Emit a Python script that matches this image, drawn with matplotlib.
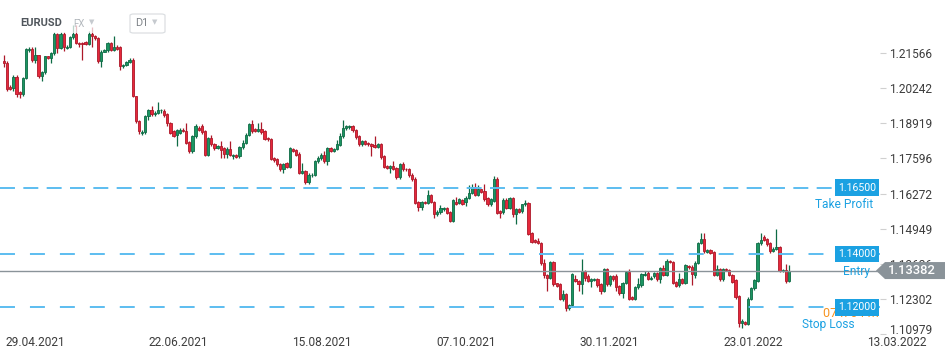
import matplotlib
matplotlib.use("Agg")
import matplotlib.pyplot as plt
import matplotlib.transforms as mtransforms
from matplotlib.patches import Polygon, FancyBboxPatch, Rectangle
import numpy as np

plt.rcParams['font.family'] = ['Roboto', 'DejaVu Sans']

# EURUSD D1 candles
opens = [
    1.2127, 1.2120, 1.2027, 1.2025, 1.2067, 1.2010, 1.2003, 1.2062, 1.2168, 1.2170,
    1.2128, 1.2147, 1.2068, 1.2084, 1.2143, 1.2137, 1.2155, 1.2227, 1.2174, 1.2227,
    1.2176, 1.2180, 1.2215, 1.2227, 1.2193, 1.2192, 1.2196, 1.2190, 1.2227, 1.2218,
    1.2212, 1.2124, 1.2161, 1.2168, 1.2193, 1.2168, 1.2180, 1.2180, 1.2106, 1.2112,
    1.2122, 1.2131, 1.1993, 1.1899, 1.1855, 1.1860, 1.1918, 1.1940, 1.1925, 1.1930,
    1.1940, 1.1939, 1.1928, 1.1893, 1.1862, 1.1846, 1.1856, 1.1868, 1.1862, 1.1821,
    1.1787, 1.1843, 1.1874, 1.1883, 1.1862, 1.1774, 1.1837, 1.1814, 1.1799, 1.1806,
    1.1799, 1.1778, 1.1796, 1.1768, 1.1773, 1.1768, 1.1803, 1.1818, 1.1849, 1.1889,
    1.1871, 1.1862, 1.1871, 1.1862, 1.1837, 1.1833, 1.1762, 1.1758, 1.1737, 1.1718,
    1.1741, 1.1728, 1.1796, 1.1793, 1.1778, 1.1706, 1.1712, 1.1671, 1.1696, 1.1699,
    1.1749, 1.1762, 1.1774, 1.1749, 1.1799, 1.1789, 1.1795, 1.1809, 1.1843, 1.1874,
    1.1877, 1.1880, 1.1868, 1.1843, 1.1812, 1.1824, 1.1817, 1.1814, 1.1809, 1.1802,
    1.1814, 1.1768, 1.1731, 1.1724, 1.1731, 1.1724, 1.1689, 1.1739, 1.1721, 1.1721,
    1.1699, 1.1684, 1.1597, 1.1577, 1.1597, 1.1593, 1.1621, 1.1597, 1.1552, 1.1560,
    1.1568, 1.1572, 1.1560, 1.1525, 1.1597, 1.1593, 1.1602, 1.1597, 1.1612, 1.1631,
    1.1652, 1.1624, 1.1643, 1.1637, 1.1612, 1.1587, 1.1599, 1.1683, 1.1562, 1.1558,
    1.1603, 1.1574, 1.1612, 1.1549, 1.1568, 1.1562, 1.1587, 1.1593, 1.1481, 1.1453,
    1.1450, 1.1443, 1.1365, 1.1321, 1.1312, 1.1371, 1.1290, 1.1287, 1.1233, 1.1250,
    1.1196, 1.1208, 1.1306, 1.1300, 1.1287, 1.1337, 1.1316, 1.1300, 1.1303, 1.1308,
    1.1287, 1.1262, 1.1343, 1.1287, 1.1316, 1.1316, 1.1281, 1.1252, 1.1293, 1.1333,
    1.1240, 1.1233, 1.1275, 1.1283, 1.1321, 1.1328, 1.1306, 1.1316, 1.1328, 1.1306,
    1.1346, 1.1321, 1.1375, 1.1371, 1.1296, 1.1283, 1.1308, 1.1293, 1.1356, 1.1353,
    1.1321, 1.1368, 1.1443, 1.1458, 1.1408, 1.1416, 1.1408, 1.1321, 1.1343, 1.1306,
    1.1343, 1.1341, 1.1321, 1.1302, 1.1241, 1.1140, 1.1144, 1.1137, 1.1233, 1.1271,
    1.1300, 1.1441, 1.1466, 1.1458, 1.1443, 1.1412, 1.1421, 1.1428, 1.1337, 1.1341,
    1.1300,
]
highs = [
    1.2149, 1.2125, 1.2035, 1.2072, 1.2072, 1.2012, 1.2066, 1.2175, 1.2177, 1.2178,
    1.2180, 1.2150, 1.2090, 1.2146, 1.2146, 1.2160, 1.2235, 1.2232, 1.2236, 1.2236,
    1.2185, 1.2220, 1.2260, 1.2260, 1.2198, 1.2196, 1.2200, 1.2240, 1.2254, 1.2222,
    1.2215, 1.2168, 1.2172, 1.2198, 1.2196, 1.2218, 1.2185, 1.2184, 1.2116, 1.2126,
    1.2136, 1.2138, 1.1996, 1.1905, 1.1866, 1.1922, 1.1945, 1.1958, 1.1936, 1.1972,
    1.1946, 1.1945, 1.1930, 1.1898, 1.1868, 1.1872, 1.1874, 1.1874, 1.1893, 1.1826,
    1.1848, 1.1888, 1.1880, 1.1888, 1.1868, 1.1842, 1.1849, 1.1818, 1.1810, 1.1824,
    1.1803, 1.1803, 1.1824, 1.1778, 1.1776, 1.1808, 1.1830, 1.1856, 1.1893, 1.1905,
    1.1874, 1.1893, 1.1895, 1.1866, 1.1840, 1.1836, 1.1765, 1.1762, 1.1741, 1.1741,
    1.1745, 1.1803, 1.1800, 1.1796, 1.1782, 1.1741, 1.1716, 1.1703, 1.1706, 1.1753,
    1.1768, 1.1780, 1.1787, 1.1803, 1.1803, 1.1799, 1.1830, 1.1855, 1.1905, 1.1885,
    1.1884, 1.1884, 1.1872, 1.1846, 1.1830, 1.1828, 1.1820, 1.1818, 1.1843, 1.1818,
    1.1818, 1.1772, 1.1735, 1.1735, 1.1749, 1.1728, 1.1743, 1.1745, 1.1724, 1.1724,
    1.1703, 1.1688, 1.1600, 1.1600, 1.1600, 1.1640, 1.1625, 1.1600, 1.1565, 1.1585,
    1.1576, 1.1577, 1.1563, 1.1606, 1.1615, 1.1610, 1.1606, 1.1618, 1.1660, 1.1665,
    1.1668, 1.1660, 1.1646, 1.1662, 1.1615, 1.1610, 1.1693, 1.1690, 1.1565, 1.1610,
    1.1612, 1.1615, 1.1615, 1.1572, 1.1572, 1.1590, 1.1603, 1.1596, 1.1484, 1.1456,
    1.1462, 1.1446, 1.1380, 1.1325, 1.1375, 1.1375, 1.1293, 1.1290, 1.1265, 1.1253,
    1.1212, 1.1330, 1.1320, 1.1303, 1.1383, 1.1340, 1.1325, 1.1312, 1.1312, 1.1312,
    1.1290, 1.1348, 1.1346, 1.1320, 1.1320, 1.1325, 1.1285, 1.1297, 1.1337, 1.1345,
    1.1243, 1.1280, 1.1310, 1.1330, 1.1337, 1.1337, 1.1318, 1.1333, 1.1333, 1.1350,
    1.1360, 1.1380, 1.1378, 1.1375, 1.1300, 1.1330, 1.1312, 1.1362, 1.1360, 1.1358,
    1.1373, 1.1447, 1.1478, 1.1481, 1.1420, 1.1420, 1.1412, 1.1360, 1.1346, 1.1348,
    1.1346, 1.1345, 1.1325, 1.1305, 1.1245, 1.1155, 1.1148, 1.1237, 1.1275, 1.1306,
    1.1446, 1.1481, 1.1470, 1.1462, 1.1447, 1.1426, 1.1493, 1.1432, 1.1345, 1.1362,
    1.1358,
]
lows = [
    1.2102, 1.2012, 1.2015, 1.2012, 1.1990, 1.1985, 1.1995, 1.2058, 1.2160, 1.2122,
    1.2120, 1.2060, 1.2049, 1.2078, 1.2134, 1.2118, 1.2150, 1.2155, 1.2170, 1.2162,
    1.2172, 1.2176, 1.2210, 1.2188, 1.2180, 1.2131, 1.2185, 1.2186, 1.2180, 1.2205,
    1.2118, 1.2102, 1.2158, 1.2160, 1.2162, 1.2162, 1.2166, 1.2093, 1.2100, 1.2108,
    1.2118, 1.1990, 1.1892, 1.1850, 1.1846, 1.1850, 1.1905, 1.1918, 1.1920, 1.1925,
    1.1932, 1.1915, 1.1880, 1.1850, 1.1839, 1.1806, 1.1850, 1.1858, 1.1812, 1.1781,
    1.1781, 1.1836, 1.1864, 1.1852, 1.1770, 1.1770, 1.1806, 1.1793, 1.1795, 1.1762,
    1.1760, 1.1760, 1.1768, 1.1756, 1.1762, 1.1762, 1.1796, 1.1812, 1.1843, 1.1856,
    1.1858, 1.1858, 1.1852, 1.1828, 1.1826, 1.1753, 1.1748, 1.1733, 1.1712, 1.1706,
    1.1722, 1.1724, 1.1783, 1.1768, 1.1700, 1.1700, 1.1664, 1.1665, 1.1690, 1.1694,
    1.1743, 1.1755, 1.1743, 1.1735, 1.1785, 1.1785, 1.1790, 1.1805, 1.1836, 1.1868,
    1.1872, 1.1860, 1.1833, 1.1808, 1.1805, 1.1810, 1.1808, 1.1768, 1.1798, 1.1798,
    1.1758, 1.1722, 1.1720, 1.1705, 1.1716, 1.1684, 1.1684, 1.1712, 1.1714, 1.1690,
    1.1676, 1.1588, 1.1562, 1.1565, 1.1588, 1.1588, 1.1592, 1.1535, 1.1545, 1.1552,
    1.1562, 1.1550, 1.1520, 1.1520, 1.1585, 1.1588, 1.1585, 1.1580, 1.1606, 1.1625,
    1.1618, 1.1618, 1.1628, 1.1600, 1.1582, 1.1580, 1.1595, 1.1550, 1.1537, 1.1552,
    1.1568, 1.1568, 1.1540, 1.1512, 1.1555, 1.1555, 1.1580, 1.1470, 1.1440, 1.1440,
    1.1437, 1.1360, 1.1310, 1.1262, 1.1306, 1.1280, 1.1276, 1.1228, 1.1225, 1.1187,
    1.1190, 1.1203, 1.1295, 1.1260, 1.1250, 1.1300, 1.1295, 1.1278, 1.1298, 1.1278,
    1.1250, 1.1258, 1.1282, 1.1280, 1.1300, 1.1262, 1.1245, 1.1235, 1.1287, 1.1228,
    1.1228, 1.1228, 1.1270, 1.1278, 1.1316, 1.1302, 1.1303, 1.1310, 1.1300, 1.1290,
    1.1316, 1.1316, 1.1366, 1.1288, 1.1276, 1.1278, 1.1288, 1.1288, 1.1345, 1.1285,
    1.1310, 1.1362, 1.1438, 1.1406, 1.1403, 1.1400, 1.1316, 1.1316, 1.1300, 1.1300,
    1.1336, 1.1316, 1.1290, 1.1232, 1.1125, 1.1121, 1.1133, 1.1132, 1.1228, 1.1266,
    1.1296, 1.1436, 1.1448, 1.1432, 1.1406, 1.1408, 1.1416, 1.1333, 1.1333, 1.1290,
    1.1296,
]
closes = [
    1.2120, 1.2021, 1.2022, 1.2065, 1.2003, 1.2003, 1.2062, 1.2170, 1.2172, 1.2128,
    1.2147, 1.2068, 1.2084, 1.2143, 1.2137, 1.2155, 1.2227, 1.2174, 1.2227, 1.2178,
    1.2180, 1.2215, 1.2227, 1.2193, 1.2190, 1.2188, 1.2190, 1.2227, 1.2218, 1.2212,
    1.2124, 1.2161, 1.2168, 1.2193, 1.2168, 1.2180, 1.2172, 1.2106, 1.2112, 1.2122,
    1.2131, 1.1993, 1.1899, 1.1862, 1.1860, 1.1918, 1.1940, 1.1925, 1.1930, 1.1943,
    1.1942, 1.1922, 1.1893, 1.1856, 1.1843, 1.1868, 1.1868, 1.1862, 1.1818, 1.1787,
    1.1843, 1.1883, 1.1868, 1.1858, 1.1774, 1.1837, 1.1812, 1.1799, 1.1806, 1.1793,
    1.1778, 1.1796, 1.1774, 1.1774, 1.1766, 1.1803, 1.1818, 1.1849, 1.1889, 1.1862,
    1.1862, 1.1871, 1.1858, 1.1833, 1.1831, 1.1758, 1.1753, 1.1737, 1.1718, 1.1737,
    1.1728, 1.1799, 1.1787, 1.1774, 1.1706, 1.1712, 1.1671, 1.1699, 1.1699, 1.1749,
    1.1762, 1.1774, 1.1749, 1.1799, 1.1789, 1.1795, 1.1812, 1.1843, 1.1874, 1.1880,
    1.1880, 1.1865, 1.1839, 1.1812, 1.1824, 1.1814, 1.1812, 1.1805, 1.1802, 1.1814,
    1.1764, 1.1727, 1.1724, 1.1731, 1.1721, 1.1689, 1.1739, 1.1718, 1.1718, 1.1696,
    1.1681, 1.1593, 1.1577, 1.1597, 1.1593, 1.1621, 1.1597, 1.1552, 1.1560, 1.1572,
    1.1572, 1.1556, 1.1525, 1.1602, 1.1590, 1.1606, 1.1590, 1.1612, 1.1631, 1.1652,
    1.1624, 1.1645, 1.1633, 1.1606, 1.1587, 1.1606, 1.1683, 1.1556, 1.1556, 1.1603,
    1.1574, 1.1612, 1.1549, 1.1568, 1.1560, 1.1587, 1.1593, 1.1477, 1.1446, 1.1446,
    1.1441, 1.1365, 1.1321, 1.1312, 1.1371, 1.1287, 1.1281, 1.1233, 1.1250, 1.1196,
    1.1208, 1.1325, 1.1300, 1.1287, 1.1337, 1.1312, 1.1300, 1.1308, 1.1308, 1.1283,
    1.1262, 1.1343, 1.1287, 1.1316, 1.1308, 1.1278, 1.1252, 1.1293, 1.1333, 1.1233,
    1.1233, 1.1275, 1.1287, 1.1325, 1.1325, 1.1308, 1.1312, 1.1328, 1.1306, 1.1346,
    1.1321, 1.1375, 1.1371, 1.1293, 1.1281, 1.1308, 1.1293, 1.1358, 1.1350, 1.1325,
    1.1368, 1.1443, 1.1458, 1.1412, 1.1416, 1.1406, 1.1321, 1.1343, 1.1306, 1.1343,
    1.1341, 1.1321, 1.1296, 1.1237, 1.1140, 1.1150, 1.1137, 1.1233, 1.1271, 1.1302,
    1.1441, 1.1453, 1.1453, 1.1437, 1.1412, 1.1421, 1.1428, 1.1337, 1.1341, 1.1300,
    1.1338,
]

y_ticks = [1.21566, 1.20242, 1.18919, 1.17596, 1.16272, 1.14949, 1.13626, 1.12302, 1.10979]
date_labels = ['29.04.2021', '22.06.2021', '15.08.2021', '07.10.2021',
               '30.11.2021', '23.01.2022', '13.03.2022']
date_pos = [9.9, 55.6, 101.3, 147.1, 192.9, 238.6, 284.4]   # bar index of each label

levels = [1.16500, 1.14000, 1.12000]
level_names = ['Take Profit', 'Entry', 'Stop Loss']
last_price = 1.13382

GREEN, GREEN_EDGE = '#1b9562', '#0e6b45'
RED, RED_EDGE = '#e6283b', '#ad1829'
BLUE = '#1ba1e2'
GREY = '#8a9399'

W, H = 950, 361
fig = plt.figure(figsize=(W / 100, H / 100), dpi=100)
ax = fig.add_axes([0, 26 / H, 880 / W, 335 / H])

o = np.array(opens); h = np.array(highs); l = np.array(lows); c = np.array(closes)
n = min(len(o), len(h), len(l), len(c))
o, h, l, c = o[:n], h[:n], l[:n], c[:n]
x = np.arange(n)
up = c >= o
body_col = np.where(up, GREEN, RED)
edge_col = np.where(up, GREEN_EDGE, RED_EDGE)

ax.vlines(x, l, h, colors=edge_col, lw=0.9, zorder=2)
body = np.maximum(np.abs(c - o), 0.00012)
ax.bar(x, body, bottom=np.minimum(o, c), width=0.72, color=body_col,
       edgecolor=edge_col, linewidth=0.6, zorder=3)

ax.set_xlim(-1.27, 278.98)
ax.set_ylim(1.1096, 1.2355)

# trade levels
dash_styles = [(0, (7.7, 4.3)), (0, (7.7, 7.7)), (0, (7.7, 7.7))]
for lv, ls in zip(levels, dash_styles):
    ax.axhline(lv, color='#5cbdf0', lw=1.4, linestyle=ls, zorder=4)
ax.axhline(last_price, color=GREY, lw=1.0, zorder=4)

# translucent header band over the candles
ax.add_patch(Rectangle((0, 1 - 33 / 335), 1, 33 / 335, transform=ax.transAxes,
                       facecolor='white', alpha=0.72, edgecolor='none', zorder=5))

for s in ax.spines.values():
    s.set_visible(False)
ax.set_xticks([])
ax.yaxis.tick_right()
ax.set_yticks(y_ticks)
ax.set_yticklabels([f'{v:.5f}' for v in y_ticks])
ax.tick_params(axis='y', length=4, width=0.8, color='#d0d0d0', pad=2.5,
               labelsize=8.6, labelcolor='#3d3d3d')
bottom_lab = ax.get_yticklabels()[-1]
bottom_lab.set_transform(bottom_lab.get_transform() +
                         mtransforms.ScaledTranslation(0, 5 / 100, fig.dpi_scale_trans))

# date labels
xtrans = mtransforms.blended_transform_factory(ax.transData, ax.transAxes)
for p, lab in zip(date_pos, date_labels):
    ax.text(p, -0.022, lab, transform=xtrans, ha='center', va='center',
            fontsize=8.6, color='#3d3d3d', clip_on=False)

# level tags on the right
rtrans = mtransforms.blended_transform_factory(fig.transFigure, ax.transData)
name_right = [873 / W, 870 / W, 855 / W]
ax.text(823 / W, levels[2], '07 h 04 m', transform=rtrans, ha='left', va='top',
        fontsize=9, color='#f7931e', clip_on=False, zorder=6)
for lv, name, xr in zip(levels, level_names, name_right):
    ax.text(857 / W, lv, f'{lv:.5f}', transform=rtrans, ha='center', va='center',
            fontsize=7.6, color='white', clip_on=False, zorder=7,
            bbox=dict(boxstyle='square,pad=0.32', facecolor=BLUE, edgecolor='none'))
    ax.annotate(name, xy=(xr, lv), xycoords=rtrans, xytext=(0, -12.3),
                textcoords='offset points', ha='right', va='center',
                fontsize=8.6, color=BLUE, annotation_clip=False, zorder=7)

# current price tag
y0, y1 = ax.get_ylim()
hh = 8.5 * (y1 - y0) / 335
tag = Polygon([(876 / W, last_price), (885 / W, last_price + hh), (945 / W, last_price + hh),
               (945 / W, last_price - hh), (885 / W, last_price - hh)],
              closed=True, transform=rtrans, facecolor=GREY, edgecolor='none',
              clip_on=False, zorder=8)
ax.add_patch(tag)
ax.text(912 / W, last_price, f'{last_price:.5f}', transform=rtrans, ha='center',
        va='center', fontsize=9.4, color='white', fontweight='medium',
        clip_on=False, zorder=9)

# header
fig.text(20 / W, 1 - 23 / H, 'EURUSD', fontsize=8, fontweight='bold',
         color='#50565c', va='center')
fig.text(73 / W, 1 - 24 / H, 'FX', fontsize=7, color='#b3b8bd', va='center')
fig.text(89 / W, 1 - 22 / H, '\u25BC', fontsize=5, color='#c6cacf', va='center',
         family='DejaVu Sans')
fig.patches.append(FancyBboxPatch((130 / W, 1 - 33 / H), 35 / W, 19 / H,
                                  boxstyle='round,pad=0,rounding_size=0.004',
                                  transform=fig.transFigure, facecolor='white',
                                  edgecolor='#dcdfe2', linewidth=0.9, zorder=10))
fig.text(135 / W, 1 - 23.5 / H, 'D1', fontsize=7.8, color='#7e8388', va='center',
         zorder=11)
fig.text(152 / W, 1 - 22.5 / H, '\u25BC', fontsize=5, color='#c6cacf', va='center',
         family='DejaVu Sans', zorder=11)

fig.savefig('out.png', dpi=100, facecolor='white')
